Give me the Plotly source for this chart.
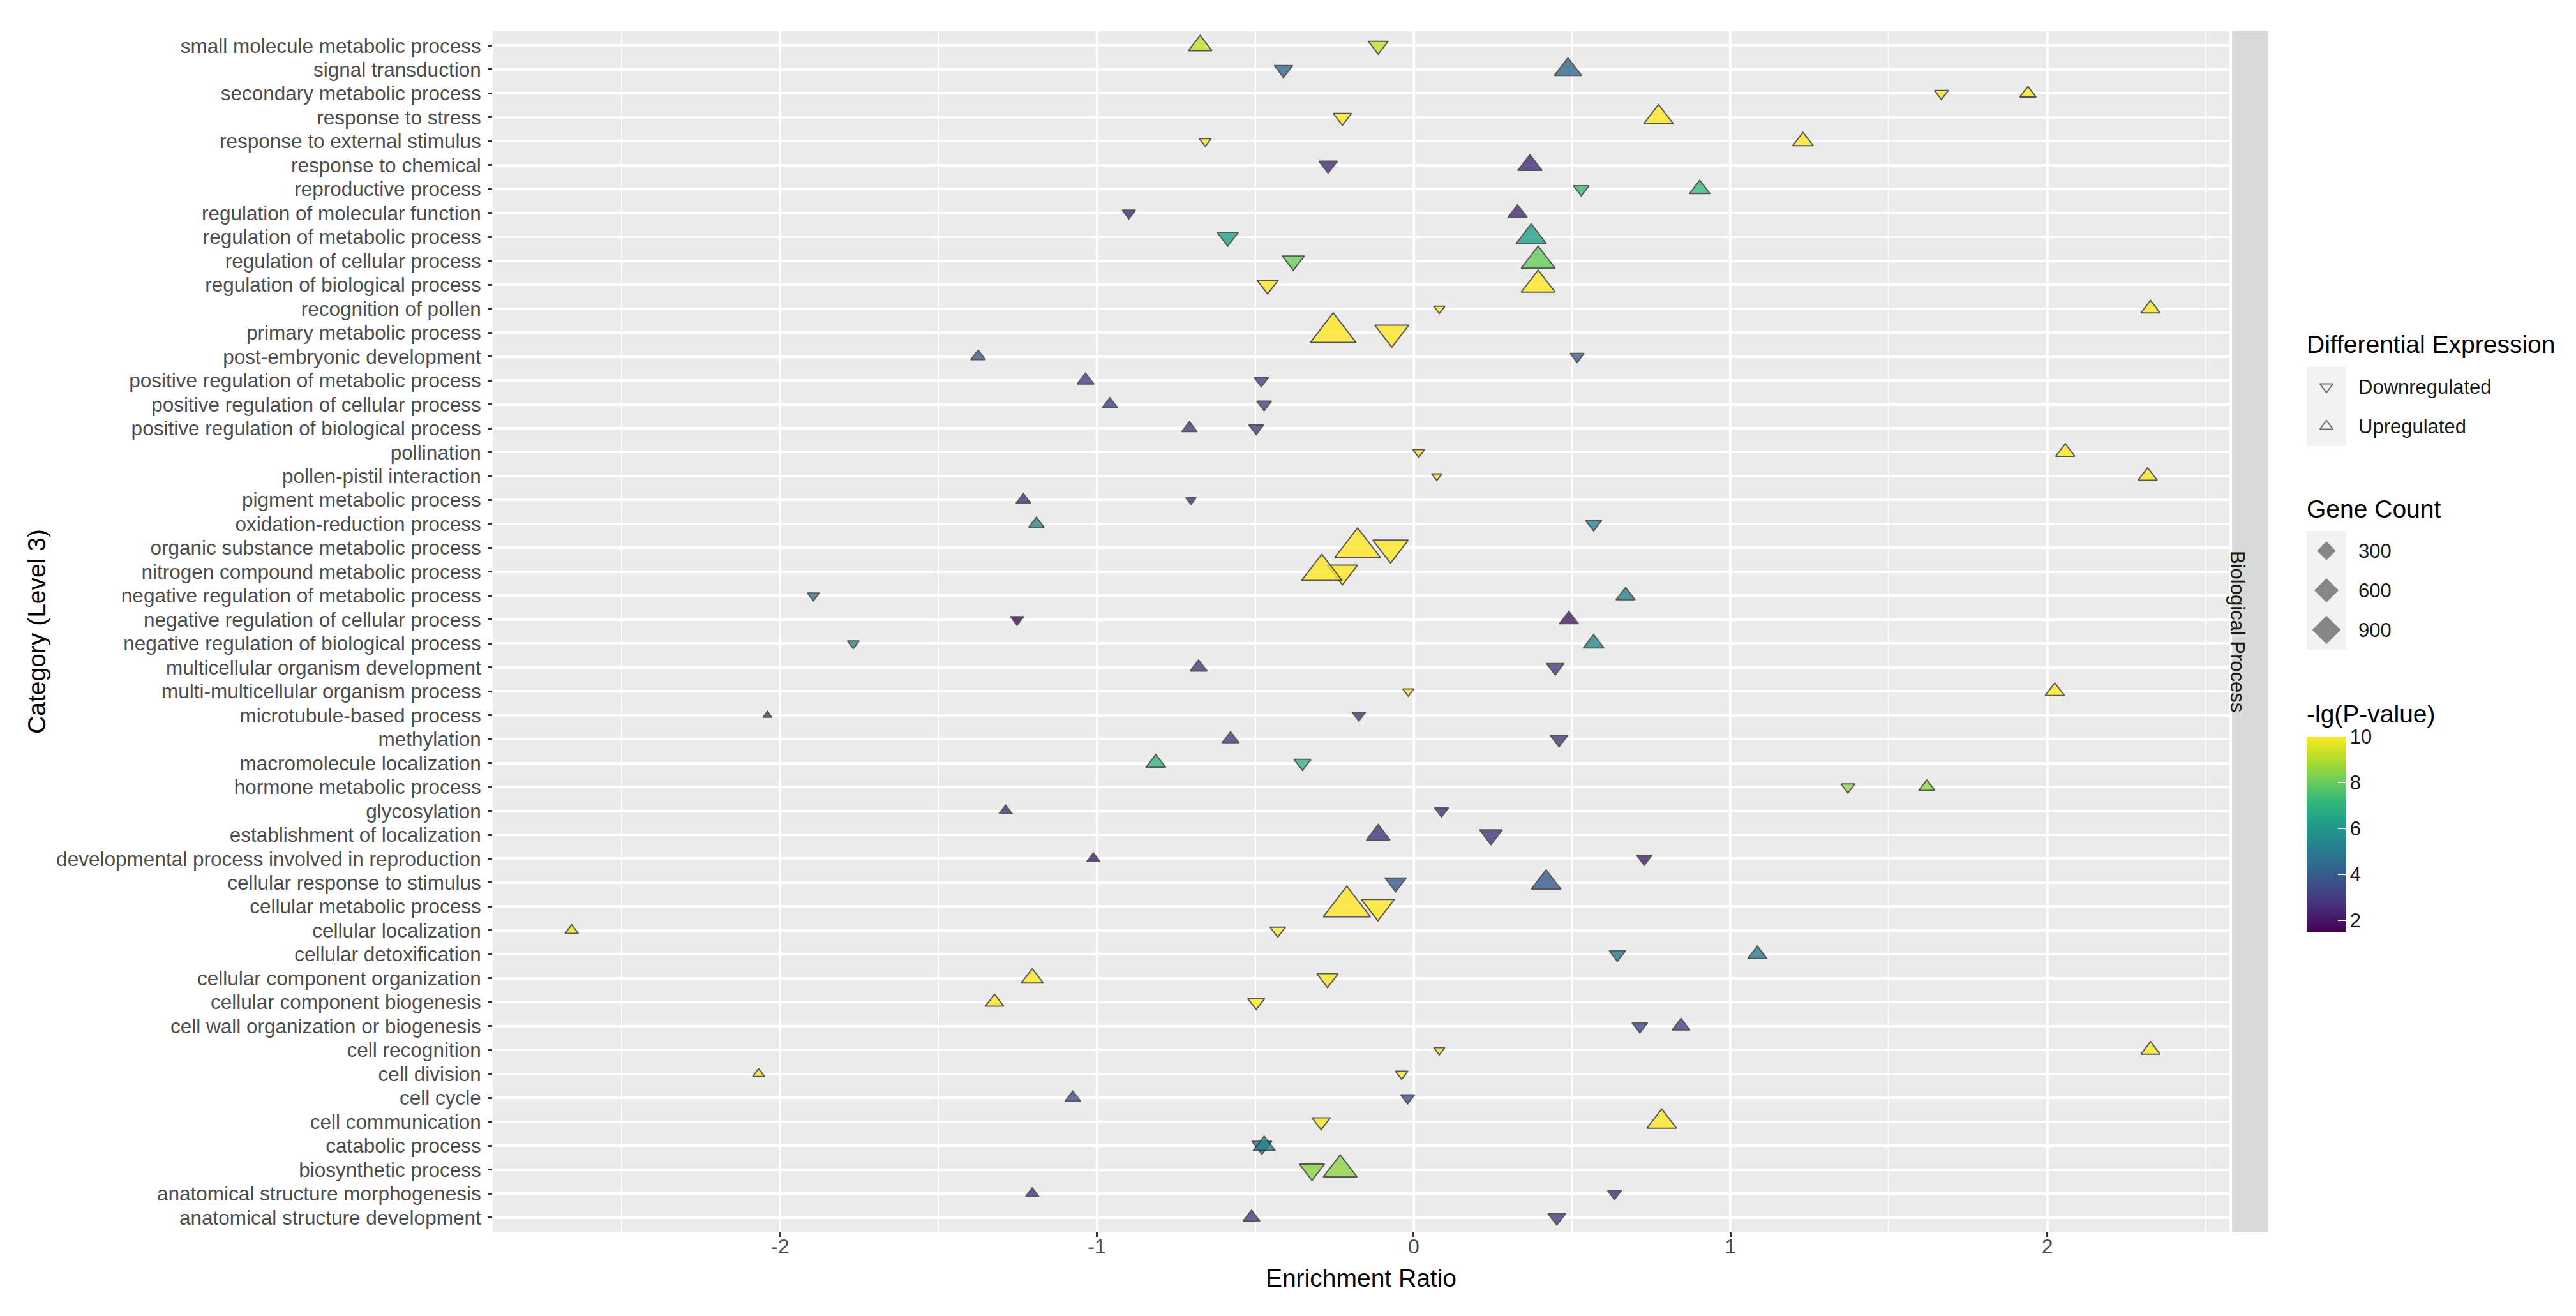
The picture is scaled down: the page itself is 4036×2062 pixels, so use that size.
import numpy as np
import plotly.graph_objects as go

# categories, top of the chart first
categories = [
    "small molecule metabolic process", "signal transduction", "secondary metabolic process",
    "response to stress", "response to external stimulus", "response to chemical",
    "reproductive process", "regulation of molecular function", "regulation of metabolic process",
    "regulation of cellular process", "regulation of biological process", "recognition of pollen",
    "primary metabolic process", "post-embryonic development", "positive regulation of metabolic process",
    "positive regulation of cellular process", "positive regulation of biological process", "pollination",
    "pollen-pistil interaction", "pigment metabolic process", "oxidation-reduction process",
    "organic substance metabolic process", "nitrogen compound metabolic process",
    "negative regulation of metabolic process", "negative regulation of cellular process",
    "negative regulation of biological process", "multicellular organism development",
    "multi-multicellular organism process", "microtubule-based process", "methylation",
    "macromolecule localization", "hormone metabolic process", "glycosylation",
    "establishment of localization", "developmental process involved in reproduction",
    "cellular response to stimulus", "cellular metabolic process", "cellular localization",
    "cellular detoxification", "cellular component organization", "cellular component biogenesis",
    "cell wall organization or biogenesis", "cell recognition", "cell division", "cell cycle",
    "cell communication", "catabolic process", "biosynthetic process",
    "anatomical structure morphogenesis", "anatomical structure development",
]

down_ratio = [-0.112, -0.411, 1.666, -0.225, -0.658, -0.270, 0.529, -0.899, -0.587, -0.380,
              -0.461, 0.081, -0.069, 0.516, -0.481, -0.472, -0.497, 0.016, 0.073, -0.703,
              0.568, -0.073, -0.225, -1.895, -1.252, -1.769, 0.447, -0.017, -0.173, 0.459,
              -0.351, 1.371, 0.088, 0.244, 0.728, -0.057, -0.113, -0.429, 0.643, -0.272,
              -0.497, 0.714, 0.081, -0.038, -0.019, -0.292, -0.479, -0.321, 0.634, 0.452]
up_ratio = [-0.674, 0.487, 1.939, 0.773, 1.229, 0.367, 0.903, 0.328, 0.371, 0.393,
            0.393, 2.326, -0.254, -1.375, -1.036, -0.959, -0.708, 2.057, 2.317, -1.232,
            -1.191, -0.177, -0.290, 0.669, 0.490, 0.568, -0.679, 2.024, -2.040, -0.578,
            -0.814, 1.620, -1.288, -0.112, -1.011, 0.418, -0.211, -2.658, 1.085, -1.204,
            -1.323, 0.844, 2.326, -2.068, -1.076, 0.783, -0.472, -0.232, -1.204, -0.512]

down_logp = [9.4, 4.3, 10, 10, 10, 2.5, 7.2, 2.5, 6.3, 8.0,
             10, 10, 10, 4.0, 3.2, 3.2, 3.0, 10, 10, 2.6,
             5.3, 10, 10, 4.9, 1.7, 5.5, 3.0, 10, 3.0, 3.0,
             7.0, 8.6, 2.6, 2.7, 2.2, 3.9, 10, 10, 5.0, 10,
             10, 3.3, 10, 10, 3.6, 10, 5.3, 8.5, 2.6, 3.0]
up_logp = [9.2, 4.3, 10, 10, 10, 2.5, 7.2, 2.5, 6.3, 8.0,
           10, 10, 10, 4.0, 3.2, 3.2, 3.0, 10, 10, 2.6,
           5.3, 10, 10, 5.2, 2.0, 5.5, 3.0, 10, 3.0, 3.0,
           7.0, 8.6, 2.6, 2.7, 2.2, 3.9, 10, 10, 5.0, 10,
           10, 3.3, 10, 10, 3.6, 10, 5.3, 8.5, 2.6, 3.0]

down_count = [212, 172, 85, 172, 62, 172, 108, 76, 258, 284,
              258, 57, 884, 85, 96, 96, 96, 62, 53, 53,
              122, 984, 656, 62, 76, 62, 154, 57, 76, 154,
              137, 85, 85, 310, 108, 258, 835, 108, 122, 258,
              137, 108, 57, 68, 85, 172, 212, 399, 85, 154]
up_count = [338, 490, 122, 616, 235, 368, 235, 191, 656, 884,
            884, 191, 1853, 96, 137, 108, 108, 191, 191, 96,
            108, 1900, 1384, 191, 191, 235, 137, 191, 50, 137,
            212, 122, 76, 338, 76, 616, 2000, 76, 191, 284,
            172, 154, 191, 62, 108, 616, 284, 884, 76, 137]

direction_labels = ["Downregulated", "Upregulated"]
count_breaks = [300, 600, 900]
logp_ticks = [2, 4, 6, 8, 10]

# size scale like ggplot's area palette: width grows with sqrt of rescaled count
all_counts = np.array(down_count + up_count, dtype=float)
c_lo, c_hi = all_counts.min(), all_counts.max()


def tri_size(c):
    c = np.asarray(c, dtype=float)
    return 12 + 52 * np.sqrt((c - c_lo) / (c_hi - c_lo))


all_x = np.array(down_ratio + up_ratio)
x_pad = 0.05 * (all_x.max() - all_x.min())
x_range = [all_x.min() - x_pad, all_x.max() + x_pad]

# the page body has an 8px margin, so the figure is drawn 8px in from the corner
OFF = 8
W, H = 4036 - OFF, 2062 - OFF
ML, MT, MB = 772 - OFF, 49 - OFF, 132
PW = W - ML
PH = H - MT - MB


def px_x(px):
    return (px - OFF - ML) / PW


def px_y(py):
    return (H - MB - (py - OFF)) / PH


FONT = "Liberation Sans, Arial, sans-serif"
fig = go.Figure()

for ratio, logp, cnt, sym in [(down_ratio, down_logp, down_count, "triangle-down"),
                              (up_ratio, up_logp, up_count, "triangle-up")]:
    fig.add_trace(go.Scatter(
        x=ratio, y=categories, mode="markers", showlegend=False, hoverinfo="skip",
        marker=dict(symbol=sym, size=tri_size(cnt), color=logp, coloraxis="coloraxis",
                    opacity=0.8, line=dict(color="#333333", width=2)),
    ))

# legend: differential expression
fig.add_trace(go.Scatter(
    x=[0, 0], y=direction_labels, mode="markers", xaxis="x2", yaxis="y2",
    showlegend=False, hoverinfo="skip",
    marker=dict(symbol=["triangle-down-open", "triangle-up-open"], size=18,
                color="#6e6e6e", line=dict(width=2)),
))
# legend: gene count
fig.add_trace(go.Scatter(
    x=[0] * len(count_breaks), y=[str(c) for c in count_breaks], mode="markers",
    xaxis="x3", yaxis="y3", showlegend=False, hoverinfo="skip",
    marker=dict(symbol="diamond", size=tri_size(count_breaks) * 0.74, color="#595959",
                line=dict(width=0)),
))

key_x = [px_x(3614), px_x(3676)]
aux_x = dict(range=[-1, 1], showgrid=False, zeroline=False, showticklabels=False,
             ticks="", fixedrange=True)
aux_y = dict(type="category", side="right", showgrid=False, zeroline=False, ticks="",
             ticklabelstandoff=18, tickfont=dict(size=31, color="#1a1a1a"))

fig.update_layout(
    width=W, height=H,
    margin=dict(l=ML, r=0, t=MT, b=MB),
    paper_bgcolor="white", plot_bgcolor="#ebebeb",
    font=dict(family=FONT, color="#1a1a1a"),
    xaxis=dict(
        domain=[0, px_x(3493)], range=x_range,
        tickvals=[-2, -1, 0, 1, 2], ticktext=["-2", "-1", "0", "1", "2"],
        tickfont=dict(size=32, color="#4d4d4d"), ticklabelstandoff=-12,
        ticks="outside", ticklen=7, tickwidth=2.5, tickcolor="#333333",
        showgrid=True, gridcolor="white", gridwidth=3.5, zeroline=False, showline=False,
        minor=dict(tickvals=[-2.5, -1.5, -0.5, 0.5, 1.5, 2.5], showgrid=True,
                   gridcolor="white", gridwidth=1.8, ticks=""),
        title=dict(text="Enrichment Ratio", font=dict(size=39, color="black"), standoff=18),
    ),
    yaxis=dict(
        type="category", categoryorder="array", categoryarray=categories[::-1],
        tickmode="linear", tick0=0, dtick=1,
        range=[-0.6, len(categories) - 0.4],
        tickfont=dict(size=31.5, color="#4d4d4d"), ticklabelstandoff=4,
        ticks="outside", ticklen=7, tickwidth=2.5, tickcolor="#333333",
        showgrid=True, gridcolor="white", gridwidth=3.5, zeroline=False, showline=False,
        title=dict(text="Category (Level 3)", font=dict(size=39, color="black"), standoff=4),
    ),
    xaxis2=dict(domain=key_x, anchor="y2", **aux_x),
    yaxis2=dict(domain=[px_y(699), px_y(575)], anchor="x2", categoryorder="array",
                categoryarray=direction_labels[::-1], range=[-0.5, 1.5], **aux_y),
    xaxis3=dict(domain=key_x, anchor="y3", **aux_x),
    yaxis3=dict(domain=[px_y(1018), px_y(832)], anchor="x3", categoryorder="array",
                categoryarray=[str(c) for c in count_breaks][::-1], range=[-0.5, 2.5], **aux_y),
    coloraxis=dict(
        colorscale="Viridis", cmin=1.5, cmax=10,
        colorbar=dict(
            x=px_x(3614), xanchor="left", y=px_y(1154), yanchor="top",
            len=306, lenmode="pixels", thickness=61, xpad=0, ypad=0, outlinewidth=0,
            tickvals=logp_ticks, ticks="inside", ticklen=12, tickwidth=2, tickcolor="white",
            tickfont=dict(size=31, color="#1a1a1a"),
        ),
    ),
    shapes=[
        dict(type="rect", xref="paper", yref="paper", x0=px_x(3497), x1=px_x(3554),
             y0=0, y1=1, fillcolor="#d9d9d9", line=dict(width=0), layer="below"),
        dict(type="rect", xref="x2 domain", yref="y2 domain", x0=0, x1=1, y0=0, y1=1,
             fillcolor="#f2f2f2", line=dict(width=0), layer="below"),
        dict(type="rect", xref="x3 domain", yref="y3 domain", x0=0, x1=1, y0=0, y1=1,
             fillcolor="#f2f2f2", line=dict(width=0), layer="below"),
    ],
    annotations=[
        dict(text="Biological Process", xref="paper", yref="paper", x=px_x(3525), y=0.5,
             textangle=90, showarrow=False, font=dict(size=31, color="#1a1a1a")),
        dict(text="Differential Expression", xref="paper", yref="paper", x=px_x(3612),
             y=px_y(539), xanchor="left", yanchor="middle", showarrow=False,
             font=dict(size=39, color="black")),
        dict(text="Gene Count", xref="paper", yref="paper", x=px_x(3612), y=px_y(797),
             xanchor="left", yanchor="middle", showarrow=False,
             font=dict(size=39, color="black")),
        dict(text="-lg(P-value)", xref="paper", yref="paper", x=px_x(3612), y=px_y(1118),
             xanchor="left", yanchor="middle", showarrow=False,
             font=dict(size=39, color="black")),
    ],
)

fig.write_html("out.html")
